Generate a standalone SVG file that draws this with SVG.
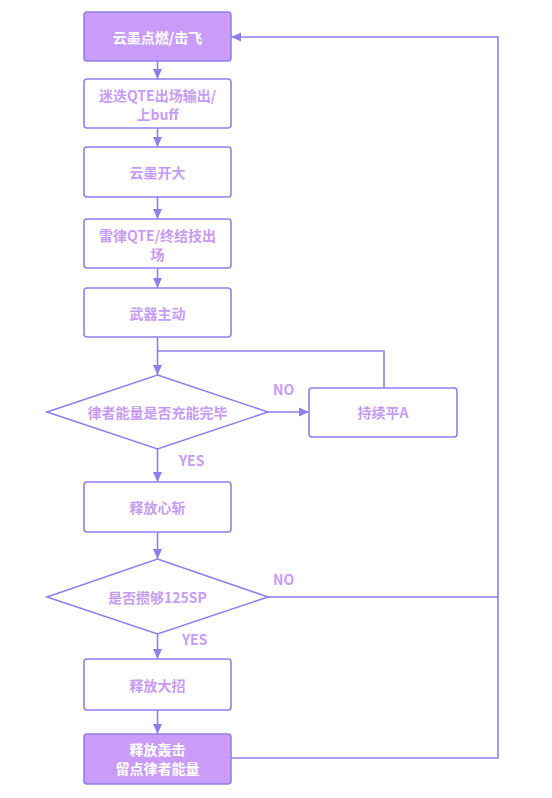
<svg xmlns="http://www.w3.org/2000/svg" width="552" height="798" viewBox="0 0 552 798">
<style>
.box{fill:#ffffff;stroke:#8e80ec;stroke-width:1.6}
.hl{fill:#c99cfa;stroke:#8e80ec;stroke-width:1.6}
.dia{fill:#ffffff;stroke:#8e80ec;stroke-width:1.6}
.t{font-family:"Microsoft YaHei","Noto Sans CJK SC",sans-serif;font-size:14px;font-weight:bold;fill:#c79bf6;text-anchor:middle;dominant-baseline:central}
.w{fill:#ffffff}
.lab{font-family:"Microsoft YaHei","Noto Sans CJK SC",sans-serif;font-size:14px;font-weight:bold;fill:#c79bf6}
.c{fill:none;stroke:#8e80ec;stroke-width:1.6}
</style>
<defs>
<marker id="ah" viewBox="0 0 10 10" refX="10" refY="5" markerWidth="10" markerHeight="10" markerUnits="userSpaceOnUse" orient="auto">
<path d="M0,0.5 L10,5 L0,9.5 Z" fill="#8e80ec"/>
</marker>
</defs>
<rect width="552" height="798" fill="#ffffff"/>
<g id="connectors">
<line class="c" x1="157.5" y1="61" x2="157.5" y2="79" marker-end="url(#ah)"/>
<line class="c" x1="157.5" y1="128" x2="157.5" y2="147" marker-end="url(#ah)"/>
<line class="c" x1="157.5" y1="197" x2="157.5" y2="219" marker-end="url(#ah)"/>
<line class="c" x1="157.5" y1="268" x2="157.5" y2="288" marker-end="url(#ah)"/>
<line class="c" x1="157.5" y1="337" x2="157.5" y2="375" marker-end="url(#ah)"/>
<polyline class="c" points="384,388 384,351 157.5,351"/>
<line class="c" x1="268" y1="412" x2="309" y2="412" marker-end="url(#ah)"/>
<line class="c" x1="157.5" y1="449" x2="157.5" y2="482" marker-end="url(#ah)"/>
<line class="c" x1="157.5" y1="532" x2="157.5" y2="559" marker-end="url(#ah)"/>
<line class="c" x1="157.5" y1="634" x2="157.5" y2="659" marker-end="url(#ah)"/>
<line class="c" x1="157.5" y1="710" x2="157.5" y2="734" marker-end="url(#ah)"/>
<polyline class="c" points="268,597 498,597"/>
<polyline class="c" points="231,758 498,758 498,37 231,37" marker-end="url(#ah)"/>
<text class="lab" x="273" y="395">NO</text>
<text class="lab" x="179" y="466">YES</text>
<text class="lab" x="273" y="585">NO</text>
<text class="lab" x="182" y="645">YES</text>
</g>
<g id="n1"><rect class="hl" x="84" y="12" width="147" height="49" rx="3"/><text class="t w" x="157.5" y="37">云墨点燃/击飞</text></g>
<g id="n2"><rect class="box" x="84" y="79" width="147" height="49" rx="3"/><text class="t" x="157.5" y="94.5">迷迭QTE出场输出/</text><text class="t" x="157.5" y="113.5">上buff</text></g>
<g id="n3"><rect class="box" x="84" y="147" width="147" height="50" rx="3"/><text class="t" x="157.5" y="172">云墨开大</text></g>
<g id="n4"><rect class="box" x="84" y="219" width="147" height="49" rx="3"/><text class="t" x="157.5" y="234.5">雷律QTE/终结技出</text><text class="t" x="157.5" y="253.5">场</text></g>
<g id="n5"><rect class="box" x="84" y="288" width="147" height="49" rx="3"/><text class="t" x="157.5" y="313">武器主动</text></g>
<g id="d1"><polygon class="dia" points="157.5,375 268,412 157.5,449 47,412"/><text class="t" x="157.5" y="412">律者能量是否充能完毕</text></g>
<g id="n6"><rect class="box" x="309" y="388" width="148" height="49" rx="3"/><text class="t" x="383" y="412">持续平A</text></g>
<g id="n7"><rect class="box" x="84" y="482" width="147" height="50" rx="3"/><text class="t" x="157.5" y="507">释放心斩</text></g>
<g id="d2"><polygon class="dia" points="157.5,559 268,597 157.5,634 47,597"/><text class="t" x="157.5" y="597">是否攒够125SP</text></g>
<g id="n8"><rect class="box" x="84" y="659" width="147" height="51" rx="3"/><text class="t" x="157.5" y="685">释放大招</text></g>
<g id="n9"><rect class="hl" x="84" y="734" width="147" height="50" rx="3"/><text class="t w" x="157.5" y="749">释放轰击</text><text class="t w" x="157.5" y="768">留点律者能量</text></g>
</svg>
